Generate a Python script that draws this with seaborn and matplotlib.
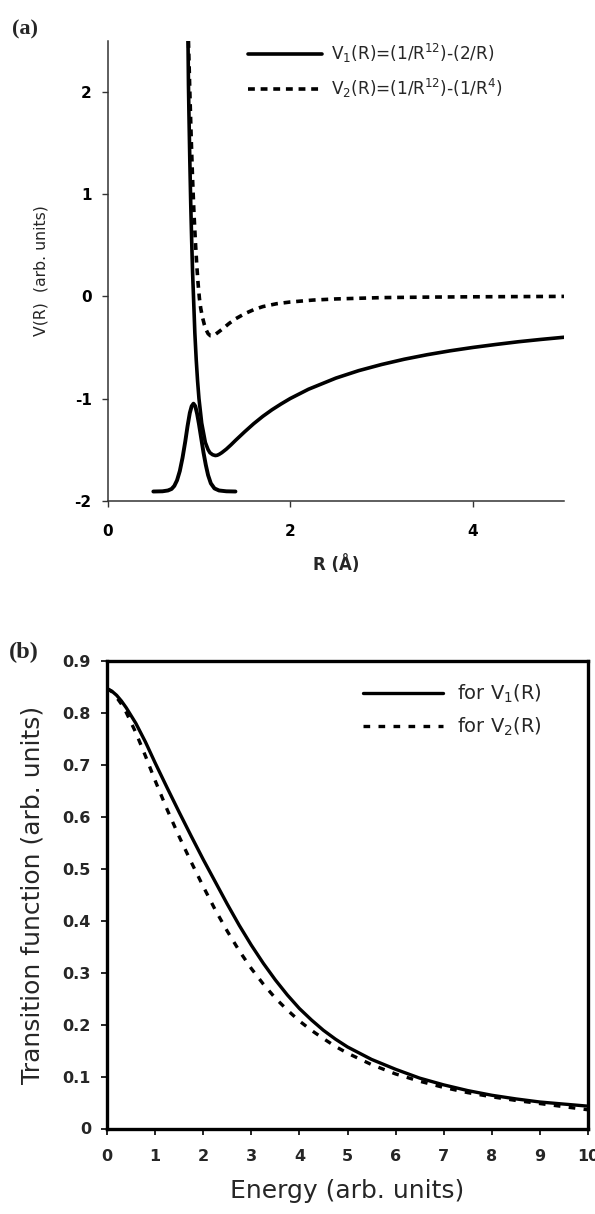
import numpy as np
import pandas as pd
import matplotlib
matplotlib.use("Agg")
import matplotlib.pyplot as plt
import seaborn as sns

# ---- panel (a): potentials ----
r_v1 = [0.88, 0.885, 0.89, 0.90, 0.91, 0.92, 0.93, 0.94, 0.955, 0.97, 0.985, 1.00,
        1.03, 1.07, 1.10, 1.12, 1.15, 1.18, 1.20, 1.22, 1.25, 1.30, 1.35, 1.40,
        1.45, 1.50, 1.60, 1.70, 1.80, 1.90, 2.00, 2.20, 2.50, 2.75, 3.00, 3.25,
        3.50, 3.75, 4.00, 4.25, 4.50, 4.75, 5.00]
v1 = [2.50, 2.07, 1.80, 1.32, 0.90, 0.55, 0.24, 0.00, -0.36, -0.62, -0.83, -1.00,
      -1.24, -1.43, -1.50, -1.53, -1.55, -1.558, -1.555, -1.547, -1.53, -1.495,
      -1.454, -1.41, -1.368, -1.326, -1.246, -1.174, -1.11, -1.053, -1.00, -0.909,
      -0.80, -0.727, -0.667, -0.615, -0.571, -0.533, -0.50, -0.471, -0.444, -0.421,
      -0.40]

r_v2 = [0.885, 0.90, 0.915, 0.93, 0.945, 0.96, 0.975, 0.99, 1.005, 1.02, 1.04,
        1.06, 1.08, 1.10, 1.125, 1.15, 1.18, 1.22, 1.27, 1.33, 1.40, 1.50, 1.60,
        1.70, 1.85, 2.00, 2.25, 2.50, 3.00, 3.50, 4.00, 4.50, 5.00]
v2 = [2.50, 2.00, 1.55, 1.15, 0.82, 0.55, 0.32, 0.13, -0.02, -0.12, -0.21,
      -0.28, -0.33, -0.365, -0.385, -0.385, -0.372, -0.345, -0.31, -0.265, -0.22,
      -0.17, -0.13, -0.10, -0.072, -0.055, -0.036, -0.025, -0.012, -0.007, -0.004,
      -0.002, 0.0]

# ground-state wave packet drawn on the -1.9 baseline
r_wave = [0.50, 0.60, 0.66, 0.70, 0.73, 0.76, 0.79, 0.82, 0.85, 0.875, 0.90,
          0.92, 0.94, 0.96, 0.98, 1.00, 1.025, 1.05, 1.075, 1.10, 1.13, 1.17,
          1.22, 1.30, 1.40]
v_wave = [-1.91, -1.908, -1.90, -1.885, -1.855, -1.80, -1.71, -1.58, -1.42, -1.27,
          -1.14, -1.075, -1.05, -1.075, -1.15, -1.25, -1.39, -1.53, -1.65, -1.75,
          -1.83, -1.88, -1.90, -1.908, -1.91]

# ---- panel (b): transition functions ----
energy = [0, 0.1, 0.2, 0.3, 0.4, 0.6, 0.8, 1.0, 1.25, 1.5, 1.75, 2.0, 2.25, 2.5,
          2.75, 3.0, 3.25, 3.5, 3.75, 4.0, 4.25, 4.5, 4.75, 5.0, 5.5, 6.0, 6.5,
          7.0, 7.5, 8.0, 8.5, 9.0, 9.5, 10.0]
t1 = [0.847, 0.842, 0.834, 0.823, 0.810, 0.780, 0.744, 0.704, 0.656, 0.609, 0.563,
      0.518, 0.475, 0.432, 0.391, 0.353, 0.318, 0.286, 0.257, 0.231, 0.209, 0.189,
      0.172, 0.157, 0.133, 0.114, 0.097, 0.084, 0.073, 0.064, 0.057, 0.051, 0.047,
      0.043]
t2 = [0.847, 0.841, 0.830, 0.817, 0.801, 0.762, 0.717, 0.670, 0.614, 0.562, 0.513,
      0.466, 0.421, 0.380, 0.342, 0.308, 0.278, 0.251, 0.228, 0.207, 0.189, 0.173,
      0.158, 0.145, 0.123, 0.105, 0.091, 0.079, 0.069, 0.061, 0.054, 0.048, 0.042,
      0.036]

labels_a = [r"V$_1$(R)=(1/R$^{12}$)-(2/R)", r"V$_2$(R)=(1/R$^{12}$)-(1/R$^4$)"]
labels_b = [r"for V$_1$(R)", r"for V$_2$(R)"]

sns.set_style("ticks")
plt.rcParams["font.family"] = ["DejaVu Sans"]
plt.rcParams["mathtext.default"] = "regular"
plt.rcParams["axes.unicode_minus"] = False

W, H = 595, 1214
fig = plt.figure(figsize=(W / 100, H / 100), dpi=100)

def rect(l, t, r, b):
    return [l / W, 1 - b / H, (r - l) / W, (b - t) / H]

ax_a = fig.add_axes(rect(107.7, 41, 564, 500.7))
ax_b = fig.add_axes(rect(107, 661, 588, 1128.5))

dash_a = (0, (1.9, 1.6))
dash_b = (0, (2.0, 2.5))

# panel (a)
sns.lineplot(x=r_v1, y=v1, ax=ax_a, color="black", linewidth=2.6)
sns.lineplot(x=r_v2, y=v2, ax=ax_a, color="black", linewidth=2.6, linestyle=dash_a)
sns.lineplot(x=r_wave, y=v_wave, ax=ax_a, color="black", linewidth=2.8)

ax_a.set_xlim(0, 5)
ax_a.set_ylim(-2, 2.5)
ax_a.set_xticks([0, 2, 4])
ax_a.set_yticks([-2, -1, 0, 1, 2])
ax_a.spines[["right", "top"]].set_visible(False)
for sp in ["left", "bottom"]:
    ax_a.spines[sp].set_color("#333333")
    ax_a.spines[sp].set_linewidth(1.1)
ax_a.tick_params(direction="out", length=4.5, width=1.0, color="#333333",
                 labelsize=11, labelcolor="black")
ax_a.tick_params(axis="x", pad=12.5)
ax_a.tick_params(axis="y", pad=7)
for t in ax_a.get_xticklabels() + ax_a.get_yticklabels():
    t.set_fontweight("bold")
ax_a.set_xlabel("R (Å)", fontsize=12, fontweight="bold")
ax_a.set_ylabel("V(R)  (arb. units)", fontsize=11.3)
ax_a.xaxis.set_label_coords(0.5, -0.118)
ax_a.yaxis.set_label_coords(-0.129, 0.5)

la = ax_a.lines
fig.legend(handles=[la[0], la[1]], labels=labels_a, loc="center left",
           bbox_to_anchor=(248 / W, 1 - 71 / H), frameon=False, fontsize=12.2,
           borderpad=0, borderaxespad=0, handlelength=4.35, handletextpad=0.55,
           labelspacing=0.7)

# panel (b)
sns.lineplot(x=energy, y=t1, ax=ax_b, color="black", linewidth=2.4)
sns.lineplot(x=energy, y=t2, ax=ax_b, color="black", linewidth=2.4, linestyle=dash_b)

ax_b.set_xlim(0, 10)
ax_b.set_ylim(0, 0.9)
ax_b.set_xticks(range(0, 11))
ax_b.set_yticks(np.arange(0, 0.91, 0.1))
ax_b.set_yticklabels(["0"] + [f"{v:.1f}" for v in np.arange(0.1, 0.91, 0.1)])
for sp in ax_b.spines.values():
    sp.set_color("black")
    sp.set_linewidth(2.4)
ax_b.tick_params(direction="out", length=4.5, width=1.2, color="black", labelsize=11.5)
ax_b.tick_params(axis="x", pad=10.5)
ax_b.tick_params(axis="y", pad=7)
for t in ax_b.get_xticklabels() + ax_b.get_yticklabels():
    t.set_fontweight("bold")
ax_b.set_xlabel("Energy (arb. units)", fontsize=18)
ax_b.set_ylabel("Transition function (arb. units)", fontsize=18)
ax_b.xaxis.set_label_coords(0.5, -0.108)
ax_b.yaxis.set_label_coords(-0.129, 0.5)

lb = ax_b.lines
fig.legend(handles=[lb[0], lb[1]], labels=labels_b, loc="center left",
           bbox_to_anchor=(363 / W, 1 - 710.5 / H), frameon=False, fontsize=14,
           borderpad=0, borderaxespad=0, handlelength=4.1, handletextpad=0.75,
           labelspacing=0.55)

# panel letters
fig.text(12 / W, 1 - 29 / H, "(a)", family="Liberation Serif", weight="bold",
         fontsize=16, va="center", ha="left")
fig.text(9 / W, 1 - 652 / H, "(b)", family="Liberation Serif", weight="bold",
         fontsize=17.5, va="center", ha="left")

fig.savefig("out.png", dpi=100)
